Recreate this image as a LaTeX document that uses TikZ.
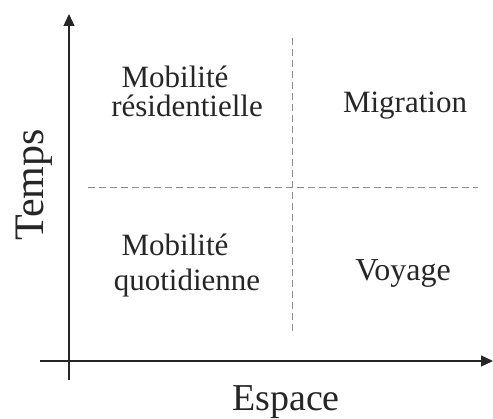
\documentclass[tikz,border=0pt]{standalone}
\usepackage{fontspec}
\setmainfont{Liberation Serif}
\usetikzlibrary{arrows.meta}
\begin{document}
\begin{tikzpicture}[x=1pt,y=-1pt,
  axis/.style={line width=1.3pt,black!85,-{Triangle[length=12pt,width=11pt]}},
  sep/.style={gray!90,line width=0.8pt,dash pattern=on 7pt off 4pt},
  lbl/.style={anchor=base,font=\fontsize{31}{36}\selectfont,text=black!85,inner sep=0pt},
  axl/.style={anchor=base,font=\fontsize{38}{44}\selectfont,text=black!85,inner sep=0pt}]
\useasboundingbox (0,0) rectangle (493,419);
\coordinate (o1) at (69,380);
\coordinate (yt) at (69,14);
\coordinate (o2) at (40,361);
\coordinate (xt) at (493,361);
\draw[axis] (o1) -- (yt);
\draw[axis] (o2) -- (xt);
\coordinate (vd1) at (292,38);
\coordinate (vd2) at (292,332);
\coordinate (hd1) at (88,187);
\coordinate (hd2) at (478,187);
\draw[sep] (vd1) -- (vd2);
\draw[sep] (hd1) -- (hd2);
\node[lbl] (mr1) at (175,88) {Mobilité};
\node[lbl] (mr2) at (187,117) {résidentielle};
\node[lbl] (mi) at (405,113) {Migration};
\node[lbl] (mq1) at (175,256) {Mobilité};
\node[lbl] (mq2) at (187,291) {quotidienne};
\node[lbl,font=\fontsize{32}{36}\selectfont] (vo) at (403,281) {Voyage};
\node[axl,rotate=90,font=\fontsize{42}{48}\selectfont] (te) at (43,185) {Temps};
\node[axl] (es) at (286,411) {Espace};
\end{tikzpicture}
\end{document}
